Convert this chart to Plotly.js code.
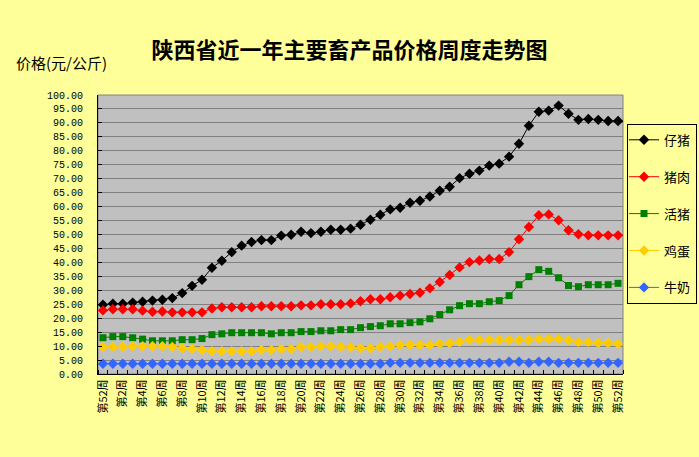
<!DOCTYPE html>
<html>
<head>
<meta charset="utf-8">
<script src="https://cdn.plot.ly/plotly-3.0.1.min.js"></script>
<style>
  body { margin: 0; }
  #chart { width: 699px; height: 457px; outline: 1px solid #000; outline-offset: -1px; }
</style>
</head>
<body>
<div id="chart"></div>
<script>
// week labels: last week of previous year, then weeks 1..52
const weeks = ['第52周'];
for (let i = 1; i <= 52; i++) weeks.push('第' + i + '周');

const piglet = [24.8, 25.2, 25.2, 25.6, 25.9, 26.3, 26.6, 27.2, 29.0, 31.6, 33.8,
    38.1, 40.6, 43.7, 46.0, 47.3, 48.0, 48.0, 49.6, 49.9, 51.0, 50.5, 51.0, 51.7, 51.7, 52.1,
    53.5, 55.3, 57.1, 59.0, 59.6, 61.4, 62.1, 63.6, 65.7, 67.1, 70.2, 71.8, 72.9, 74.7, 75.4,
    77.9, 82.5, 89.0, 94.0, 94.4, 96.2, 93.3, 91.1, 91.4, 91.1, 90.7, 90.7];

const pork = [22.8, 23.2, 23.2, 23.2, 22.7, 22.3, 22.4, 22.1, 22.1, 22.1, 22.1,
    23.5, 23.9, 23.9, 23.9, 23.9, 24.3, 24.3, 24.3, 24.3, 24.6, 24.6, 25.0, 25.0, 25.0, 25.3,
    26.1, 26.8, 26.8, 27.5, 28.1, 28.7, 29.1, 30.7, 33.0, 35.5, 38.2, 40.1, 40.7, 41.2, 41.2,
    43.7, 48.3, 52.7, 56.9, 57.2, 55.1, 51.5, 50.1, 49.7, 49.7, 49.7, 49.7];

const hog = [13.0, 13.4, 13.4, 13.0, 12.5, 11.9, 11.9, 11.9, 12.3, 12.3, 12.7,
    14.1, 14.4, 14.8, 14.8, 14.8, 14.8, 14.4, 14.8, 14.8, 15.2, 15.2, 15.5, 15.5, 15.9, 15.9, 16.6,
    17.0, 17.3, 18.0, 18.0, 18.4, 18.7, 19.8, 21.3, 23.0, 24.5, 25.2, 25.2, 25.9, 26.3,
    28.1, 32.0, 34.9, 37.4, 36.8, 34.5, 31.7, 31.3, 32.0, 32.0, 32.0, 32.5];

const egg = [9.7, 9.7, 9.7, 10.0, 10.0, 10.0, 10.0, 9.7, 9.3, 9.0, 8.6,
    8.2, 8.2, 8.2, 8.2, 8.2, 8.6, 8.6, 9.0, 9.0, 9.7, 9.7, 10.0, 10.0, 9.7, 9.6, 9.3,
    9.3, 9.7, 10.0, 10.4, 10.4, 10.4, 10.4, 10.8, 11.1, 11.5, 12.2, 12.2, 12.2, 12.2,
    12.2, 12.2, 12.2, 12.5, 12.5, 12.5, 12.2, 11.5, 11.5, 11.1, 11.1, 10.8];

const milk = [3.7, 3.7, 3.7, 3.7, 3.7, 3.7, 3.7, 3.7, 3.7, 3.7, 3.7,
    3.7, 3.7, 3.7, 3.7, 3.7, 3.7, 3.7, 3.7, 3.7, 3.7, 3.7, 3.7, 3.7, 3.7, 3.7, 3.7,
    3.7, 3.7, 4.0, 4.0, 4.0, 4.0, 4.0, 4.0, 4.0, 4.0, 4.0, 4.0, 4.0, 4.0,
    4.4, 4.4, 4.0, 4.4, 4.4, 4.0, 4.0, 4.0, 4.0, 4.0, 4.0, 4.0];

const xs = weeks.map((w, i) => i);
const shownTicks = xs.filter(i => i % 2 == 0);

function series(name, y, color, symbol, size) {
    return {
        x: xs,
        y: y,
        name: name,
        legendgroup: name,
        mode: 'lines+markers',
        line: {color: color, width: 1},
        marker: {color: color, symbol: symbol, size: size},
    };
}

const traces = [
    series('仔猪', piglet, '#000000', 'diamond', 8),
    series('猪肉', pork, '#FF0000', 'diamond', 8),
    series('活猪', hog, '#008000', 'square', 7),
    series('鸡蛋', egg, '#FFCC00', 'diamond', 8),
    series('牛奶', milk, '#3366FF', 'diamond', 8),
];

const layout = {
    width: 699,
    height: 457,
    margin: {l: 98, r: 76, t: 95, b: 83},
    paper_bgcolor: '#FFFF99',
    plot_bgcolor: '#C0C0C0',
    font: {family: '"Noto Sans CJK SC", sans-serif', color: '#000'},
    title: {
        text: '<b>陕西省近一年主要畜产品价格周度走势图</b>',
        font: {size: 22, family: '"Noto Sans CJK SC", sans-serif'},
        x: 0.5, xanchor: 'center',
        y: 0.89, yanchor: 'middle',
    },
    xaxis: {
        range: [-0.5, 52.5],
        tickmode: 'array',
        tickvals: shownTicks,
        ticktext: shownTicks.map(i => weeks[i]),
        tickangle: -90,
        tickfont: {size: 11},
        ticks: '',
        showgrid: false,
        zeroline: false,
        showline: true,
        linecolor: '#000',
        linewidth: 1,
        minor: {tick0: -0.5, dtick: 1, ticks: 'inside', ticklen: 4, tickcolor: '#000', showgrid: false},
    },
    yaxis: {
        range: [0, 100],
        dtick: 5,
        tickformat: '.2f',
        tickfont: {size: 10, family: '"Liberation Mono", monospace'},
        ticks: 'inside',
        ticklen: 4,
        tickcolor: '#000',
        ticklabelstandoff: 12,
        gridcolor: '#808080',
        gridwidth: 1,
        zeroline: false,
        showline: true,
        linecolor: '#000',
        linewidth: 1,
    },
    shapes: [{
        type: 'rect', xref: 'paper', yref: 'paper',
        x0: 0, x1: 1, y0: 0, y1: 1,
        line: {color: '#808080', width: 1},
        layer: 'below',
    }],
    annotations: [{
        text: '价格(元/公斤)',
        xref: 'paper', yref: 'paper',
        x: -0.16, xanchor: 'left',
        y: 1.118, yanchor: 'middle',
        showarrow: false,
        font: {size: 15},
    }],
    showlegend: true,
    legend: {
        xref: 'container', yref: 'container',
        x: 0.897, xanchor: 'left',
        y: 0.729, yanchor: 'top',
        bgcolor: '#FFFF99',
        bordercolor: '#000',
        borderwidth: 1,
        font: {size: 13},
        tracegroupgap: 17,
        itemwidth: 30,
        indentation: -4,
    },
};

Plotly.newPlot('chart', traces, layout, {displayModeBar: false});
</script>
</body>
</html>
